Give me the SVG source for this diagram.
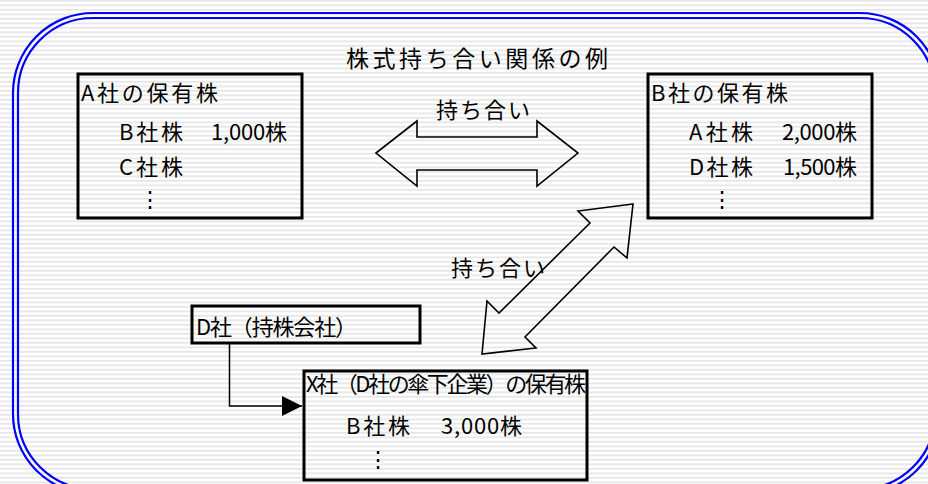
<svg xmlns="http://www.w3.org/2000/svg" width="928" height="484" viewBox="0 0 928 484">
  <style>
    text { font-family: "Noto Sans CJK JP", "Noto Sans", sans-serif; font-size: 22px; fill: #000; }
    .box { fill: none; stroke: #000; stroke-width: 3; }
    .frame { fill: none; stroke: #0000ff; stroke-width: 2.2; }
    .block { fill: none; stroke: #000; stroke-width: 1.6; stroke-linejoin: miter; }
    .line { fill: none; stroke: #000; stroke-width: 1.5; }
  </style>
  <defs>
    <pattern id="hatch" patternUnits="userSpaceOnUse" width="40" height="4.5">
      <rect x="0" y="0.3" width="40" height="1.1" fill="#d9d9d9"/>
    </pattern>
    <marker id="arrowHead" markerUnits="userSpaceOnUse" markerWidth="22" markerHeight="22" refX="20" refY="10" orient="auto">
      <path d="M0,0 L20,10 L0,20 Z" fill="#000"/>
    </marker>
  </defs>

  <rect x="0" y="0" width="928" height="484" fill="#fff"/>
  <rect x="0" y="0" width="928" height="484" fill="url(#hatch)"/>

  <g id="frame">
    <rect class="frame" x="13" y="13" width="927" height="481" rx="80" ry="80"/>
    <rect class="frame" x="18" y="18" width="917" height="471" rx="75" ry="75"/>
  </g>

  <g id="title">
    <text x="346" y="67" textLength="262" lengthAdjust="spacing" style="font-size:23px">株式持ち合い関係の例</text>
  </g>

  <g id="node-a">
    <rect class="box" x="78" y="74" width="224" height="144"/>
    <text x="81" y="101" textLength="137" lengthAdjust="spacing">A社の保有株</text>
    <text x="119" y="140" textLength="64" lengthAdjust="spacing">B社株</text>
    <text x="211" y="140" textLength="76" lengthAdjust="spacing">1,000株</text>
    <text x="119" y="175" textLength="64" lengthAdjust="spacing">C社株</text>
    <text x="139" y="207">⋮</text>
  </g>

  <g id="node-b">
    <rect class="box" x="648" y="74" width="224" height="144"/>
    <text x="651" y="101" textLength="137" lengthAdjust="spacing">B社の保有株</text>
    <text x="689" y="140" textLength="64" lengthAdjust="spacing">A社株</text>
    <text x="782" y="140" textLength="75" lengthAdjust="spacing">2,000株</text>
    <text x="689" y="175" textLength="64" lengthAdjust="spacing">D社株</text>
    <text x="783" y="175" textLength="74" lengthAdjust="spacing">1,500株</text>
    <text x="711" y="207">⋮</text>
  </g>

  <g id="node-d">
    <rect class="box" x="192" y="306" width="228" height="37"/>
    <text x="196" y="335" textLength="161" lengthAdjust="spacing">D社（持株会社）</text>
  </g>

  <g id="node-x">
    <rect class="box" x="304" y="371" width="283" height="109"/>
    <text x="306" y="392" textLength="280" lengthAdjust="spacing">X社（D社の傘下企業）の保有株</text>
    <text x="346" y="434" textLength="64" lengthAdjust="spacing">B社株</text>
    <text x="441" y="434" textLength="81" lengthAdjust="spacing">3,000株</text>
    <text x="367" y="467">⋮</text>
  </g>

  <g id="connectors">
    <polygon class="block" points="376,153 417,121 417,137 537,137 537,121 578,153 537,186 537,170 417,170 417,186"/>
    <text x="436" y="118" textLength="94" lengthAdjust="spacing">持ち合い</text>
    <polygon class="block" points="633,204 578,211 590,223 499,313 487,301 482,354 536,348 525,337 614,247 627,258"/>
    <text x="451" y="276" textLength="94" lengthAdjust="spacing">持ち合い</text>
    <path class="line" d="M229.5,343 V406 H302" marker-end="url(#arrowHead)"/>
  </g>
</svg>
